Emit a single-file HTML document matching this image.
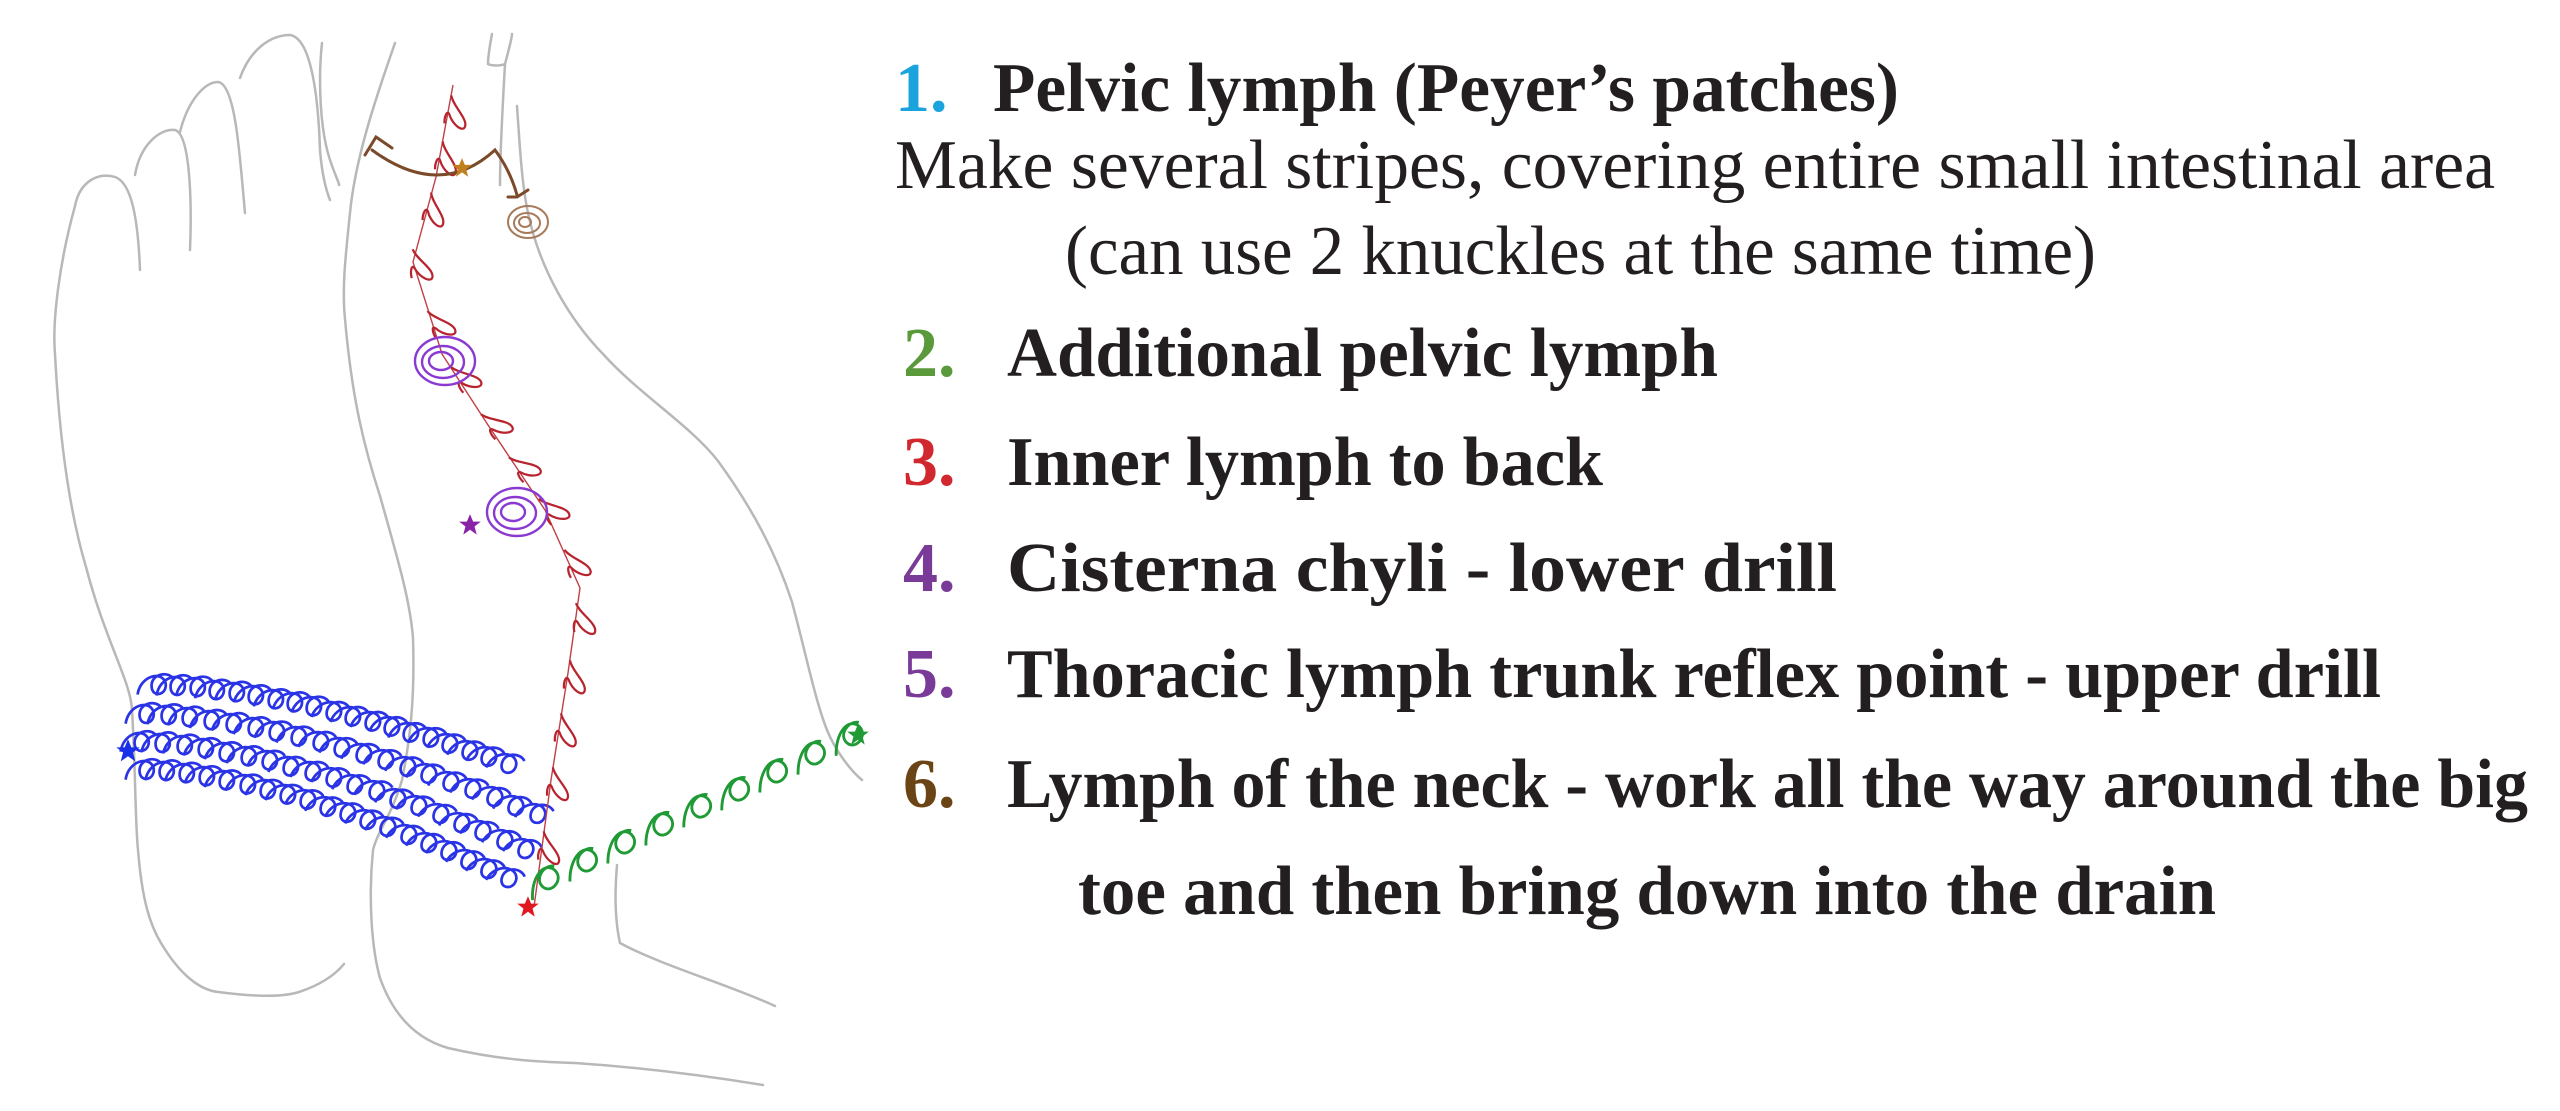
<!DOCTYPE html>
<html><head><meta charset="utf-8"><style>
html,body{margin:0;padding:0;background:#fff;}
svg{display:block;}
</style></head><body>
<svg width="2560" height="1111" viewBox="0 0 2560 1111" xmlns="http://www.w3.org/2000/svg">
<defs>
<marker id="bl" markerUnits="userSpaceOnUse" markerWidth="60" markerHeight="60" refX="0" refY="0" viewBox="-30 -30 60 60" orient="auto" overflow="visible">
<path transform="scale(1.7)" d="M-10,5 C-9,-6 3,-10 6,-3 C8,4 -1,7 -2,0 C-3,-7 6,-10 10,-6" fill="none" stroke="#2a33e6" stroke-width="1.6"/>
</marker>
<marker id="rd" markerUnits="userSpaceOnUse" markerWidth="60" markerHeight="60" refX="0" refY="0" viewBox="-30 -30 60 60" orient="auto" overflow="visible">
<path transform="scale(1.6)" d="M-8,0 C-2,-2 4,-12 9,-12 C14,-12 10,-4 4,-1 C1,1 6,2 10,1" fill="none" stroke="#b8242e" stroke-width="1.4"/>
</marker>
<marker id="gr" markerUnits="userSpaceOnUse" markerWidth="80" markerHeight="80" refX="0" refY="0" viewBox="-40 -40 80 80" orient="auto" overflow="visible">
<path transform="scale(2.2)" d="M-8,3 C-4,-6 4,-10 7,-5 C10,1 1,5 -1,0 C-3,-5 4,-9 8,-6" fill="none" stroke="#1f9a35" stroke-width="1.3"/>
</marker>
<path id="star" d="M0,-9 L2.6,-2.8 L9,-2.8 L3.8,1.2 L5.6,8 L0,4 L-5.6,8 L-3.8,1.2 L-9,-2.8 L-2.6,-2.8 Z"/>
</defs>

<g fill="none" stroke="#b8b8b8" stroke-width="2.5" stroke-linecap="round">
<path d="M75,206 C60,260 52,320 55,354 C60,450 72,520 86,567 C105,640 130,680 132,709 C136,780 135,820 138,850 C142,900 150,925 161,943 C180,975 200,990 218,992 C250,996 280,998 299,992 C320,985 335,975 344,964"/>
<path d="M75,206 C80,180 100,172 115,177 C132,183 138,220 140,270"/>
<path d="M135,175 C140,145 160,128 175,130 C190,134 192,200 190,250"/>
<path d="M180,132 C188,100 205,82 218,82 C236,84 240,160 245,213"/>
<path d="M240,78 C250,50 270,35 290,35 C310,38 318,90 320,150 C322,175 326,190 330,200"/>
<path d="M322,43 C318,80 320,130 330,160 C335,175 340,185 339,185"/>
<path d="M395,43 C375,100 355,160 350,213 C345,260 342,290 345,319 C352,400 365,450 380,496 C398,560 410,600 413,638 C415,700 410,740 402,780 C392,815 378,830 373,850 C368,900 372,950 380,978 C395,1020 420,1040 448,1048 C500,1060 540,1062 575,1063 C650,1068 720,1078 763,1085"/>
<path d="M517,106 C520,150 522,185 528,213 C540,270 570,320 603,354 C640,395 690,425 718,461 C750,505 775,550 792,602 C805,650 815,700 827,730 C835,750 850,770 862,780"/>
<path d="M492,34 C490,45 488,55 488,64 C492,66 500,66 505,64 C503,100 500,150 500,185"/>
<path d="M505,64 C510,45 512,38 512,34"/>
<path d="M617,865 C614,900 616,925 620,943 C660,965 730,985 775,1006"/>
</g>

<g fill="none" stroke="none">
<polyline marker-start="url(#bl)" marker-mid="url(#bl)" marker-end="url(#bl)" points="155,687 174,688 194,689 213,692 233,694 252,697 272,701 291,704 310,708 330,713 349,718 369,723 388,728 407,734 427,739 446,745 466,752 485,758 505,765"/>
<polyline marker-start="url(#bl)" marker-mid="url(#bl)" marker-end="url(#bl)" points="143,716 165,717 186,719 208,722 230,725 252,729 273,733 295,738 317,743 338,749 360,755 382,761 404,768 425,775 447,783 469,790 491,798 512,807 534,815"/>
<polyline marker-start="url(#bl)" marker-mid="url(#bl)" marker-end="url(#bl)" points="138,744 159,745 181,747 202,750 223,754 245,758 266,762 287,768 309,773 330,779 351,786 373,792 394,800 415,807 437,815 458,824 479,832 501,841 522,850"/>
<polyline marker-start="url(#bl)" marker-mid="url(#bl)" marker-end="url(#bl)" points="143,772 163,773 183,775 203,778 223,782 244,786 264,791 284,796 304,801 324,808 344,814 364,821 384,828 405,836 425,844 445,852 465,861 485,870 505,879"/>
</g>

<polyline fill="none" stroke="#c04048" stroke-width="1.4" points="453,85 436,177 413,262 442,354 488,425 545,510 580,588 568,673 551,780 534,907"/>
<polyline fill="none" stroke="none" marker-mid="url(#rd)" points="453,85 449,108 440,154 428,205 413,262 432,323 457,378 488,425 516,468 545,510 568,562 576,616 568,673 559,726 551,780 542,844 536,890"/>

<polyline fill="none" stroke="none" marker-mid="url(#gr)" marker-end="url(#gr)" points="530,895 545,886 583,868 621,850 659,832 697,814 735,797 773,779 811,761 849,742"/>

<g fill="none" stroke="#8a3ad0" stroke-width="2.4">
<ellipse cx="445" cy="361" rx="30" ry="24"/><ellipse cx="443" cy="362" rx="21" ry="16"/><ellipse cx="441" cy="361" rx="12" ry="9"/>
<ellipse cx="517" cy="512" rx="30" ry="24"/><ellipse cx="515" cy="513" rx="21" ry="16"/><ellipse cx="513" cy="512" rx="12" ry="9"/>
</g>
<g fill="none" stroke="#a77a5a" stroke-width="2">
<ellipse cx="528" cy="222" rx="20" ry="16"/><ellipse cx="527" cy="223" rx="13" ry="10"/><ellipse cx="525" cy="222" rx="6" ry="5"/>
</g>
<g fill="none" stroke="#7a4a2a" stroke-width="3" stroke-linecap="round">
<path d="M372,150 Q440,200 495,150 Q510,170 517,195"/>
<path d="M365,155 L376,137 L392,148"/>
<path d="M508,197 L517,197 L528,190"/>
</g>

<use href="#star" fill="#1a2fe8" transform="translate(128,751) scale(1.3)"/>
<use href="#star" fill="#e01820" transform="translate(528,907) scale(1.2)"/>
<use href="#star" fill="#1f9a35" transform="translate(858,735) scale(1.2)"/>
<use href="#star" fill="#8a22a8" transform="translate(470,525) scale(1.2)"/>
<use href="#star" fill="#c08020" transform="translate(462,168) scale(1.1)"/>

<g font-family="'Liberation Serif', serif" font-size="70" fill="#231f20" xml:space="preserve">
<text x="895" y="111" fill="#1aa3dc" font-weight="bold">1.</text>
<text x="993" y="111" font-weight="bold" textLength="906" lengthAdjust="spacingAndGlyphs">Pelvic lymph   (Peyer’s patches)</text>
<text x="895" y="188" textLength="1600" lengthAdjust="spacingAndGlyphs">Make several stripes, covering entire small intestinal area</text>
<text x="1065" y="274" textLength="1031" lengthAdjust="spacingAndGlyphs">(can use 2 knuckles at the same time)</text>
<text x="903" y="376" fill="#5a9a3a" font-weight="bold">2.</text>
<text x="1007" y="376" font-weight="bold" textLength="711" lengthAdjust="spacingAndGlyphs">Additional pelvic lymph</text>
<text x="903" y="485" fill="#d0282e" font-weight="bold">3.</text>
<text x="1007" y="485" font-weight="bold" textLength="596" lengthAdjust="spacingAndGlyphs">Inner lymph to back</text>
<text x="903" y="591" fill="#7a3a98" font-weight="bold">4.</text>
<text x="1007" y="591" font-weight="bold" textLength="830" lengthAdjust="spacingAndGlyphs">Cisterna chyli - lower drill</text>
<text x="903" y="697" fill="#7a3a98" font-weight="bold">5.</text>
<text x="1007" y="697" font-weight="bold" textLength="1374" lengthAdjust="spacingAndGlyphs">Thoracic lymph trunk reflex point - upper drill</text>
<text x="903" y="807" fill="#6b4415" font-weight="bold">6.</text>
<text x="1007" y="807" font-weight="bold" textLength="1521" lengthAdjust="spacingAndGlyphs">Lymph of the neck - work all the way around the big</text>
<text x="1078" y="914" font-weight="bold" textLength="1138" lengthAdjust="spacingAndGlyphs">toe and then bring down into the drain</text>
</g>
</svg>
</body></html>
